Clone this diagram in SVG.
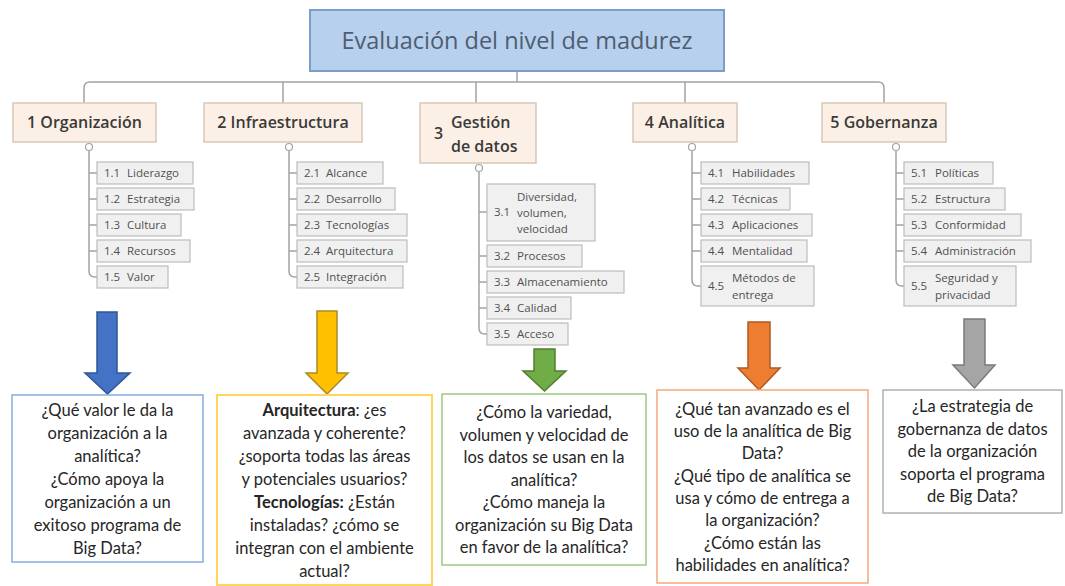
<svg xmlns="http://www.w3.org/2000/svg" width="1065" height="586" viewBox="0 0 1065 586">
<style>
.title{font-family:"Open Sans","DejaVu Sans",sans-serif;font-size:23.5px;fill:#4f5d6e;text-anchor:middle}
.main{fill:#fcf0e6;stroke:#d6c8ba;stroke-width:1.5}
.mt{font-family:"Open Sans","DejaVu Sans",sans-serif;font-size:16px;font-weight:600;fill:#3a3a3a}
.sub{fill:#f0f0f0;stroke:#bcbcbc;stroke-width:1.2}
.st{font-family:"Open Sans","DejaVu Sans",sans-serif;font-size:11.5px;fill:#505050}
.con{fill:none;stroke:#a3a3a3;stroke-width:1.5}
.tog{fill:#fff;stroke:#a3a3a3;stroke-width:1.2}
.q{font-family:Lato,"Liberation Sans",sans-serif;font-size:16.5px;fill:#262626;text-anchor:middle}
.b{font-weight:700}
</style>
<rect width="1065" height="586" fill="#ffffff"/>

<g id="connectors">
<path class="con" d="M517,71 V82"/>
<path class="con" d="M84,103 V88 Q84,82 90,82 H878 Q884,82 884,88 V103"/>
<path class="con" d="M283,82 V103 M476,82 V103 M685,82 V103"/>
<path class="con" d="M89,151 V271 Q89,277 95,277 H97 M89,173 H97 M89,199 H97 M89,225 H97 M89,251 H97"/>
<path class="con" d="M289,151 V271 Q289,277 295,277 H297 M289,173 H297 M289,199 H297 M289,225 H297 M289,251 H297"/>
<path class="con" d="M479,172 V328 Q479,334 485,334 H487 M479,212 H487 M479,256 H487 M479,282 H487 M479,308 H487"/>
<path class="con" d="M692,151 V280 Q692,286 698,286 H701 M692,173 H701 M692,199 H701 M692,225 H701 M692,251 H701"/>
<path class="con" d="M896,151 V280 Q896,286 902,286 H904 M896,173 H904 M896,199 H904 M896,225 H904 M896,251 H904"/>
<circle class="tog" cx="89" cy="147" r="3.5"/>
<circle class="tog" cx="289" cy="147" r="3.5"/>
<circle class="tog" cx="479" cy="168" r="3.5"/>
<circle class="tog" cx="692" cy="147" r="3.5"/>
<circle class="tog" cx="896" cy="147" r="3.5"/>
</g>

<g id="title">
<rect x="310" y="10" width="414" height="61" fill="#b7d0ee" stroke="#7c9dc9" stroke-width="2"/>
<text class="title" x="517" y="49">Evaluación del nivel de madurez</text>
</g>

<g id="n1">
<rect class="main" x="13" y="103" width="143" height="39"/>
<text class="mt" x="84.5" y="128" text-anchor="middle">1 Organización</text>
</g>
<g id="n2">
<rect class="main" x="204" y="103" width="158" height="39"/>
<text class="mt" x="283" y="128" text-anchor="middle">2 Infraestructura</text>
</g>
<g id="n3">
<rect class="main" x="420" y="103" width="116" height="60"/>
<text class="mt" x="434" y="139">3</text>
<text class="mt" x="451" y="128">Gestión</text>
<text class="mt" x="451" y="152">de datos</text>
</g>
<g id="n4">
<rect class="main" x="633" y="103" width="104" height="39"/>
<text class="mt" x="685" y="128" text-anchor="middle">4 Analítica</text>
</g>
<g id="n5">
<rect class="main" x="822" y="103" width="124" height="39"/>
<text class="mt" x="884" y="128" text-anchor="middle">5 Gobernanza</text>
</g>

<g id="s11"><rect class="sub" x="97" y="162" width="96" height="22"/><text class="st" x="104" y="177">1.1</text><text class="st" x="127" y="177">Liderazgo</text></g>
<g id="s12"><rect class="sub" x="97" y="188" width="97" height="22"/><text class="st" x="104" y="203">1.2</text><text class="st" x="127" y="203">Estrategia</text></g>
<g id="s13"><rect class="sub" x="97" y="214" width="84" height="22"/><text class="st" x="104" y="229">1.3</text><text class="st" x="127" y="229">Cultura</text></g>
<g id="s14"><rect class="sub" x="97" y="240" width="93" height="22"/><text class="st" x="104" y="255">1.4</text><text class="st" x="127" y="255">Recursos</text></g>
<g id="s15"><rect class="sub" x="97" y="266" width="71" height="22"/><text class="st" x="104" y="281">1.5</text><text class="st" x="127" y="281">Valor</text></g>

<g id="s21"><rect class="sub" x="297" y="162" width="86" height="22"/><text class="st" x="304" y="177">2.1</text><text class="st" x="326" y="177">Alcance</text></g>
<g id="s22"><rect class="sub" x="297" y="188" width="98" height="22"/><text class="st" x="304" y="203">2.2</text><text class="st" x="326" y="203">Desarrollo</text></g>
<g id="s23"><rect class="sub" x="297" y="214" width="110" height="22"/><text class="st" x="304" y="229">2.3</text><text class="st" x="326" y="229">Tecnologías</text></g>
<g id="s24"><rect class="sub" x="297" y="240" width="110" height="22"/><text class="st" x="304" y="255">2.4</text><text class="st" x="326" y="255">Arquitectura</text></g>
<g id="s25"><rect class="sub" x="297" y="266" width="106" height="22"/><text class="st" x="304" y="281">2.5</text><text class="st" x="326" y="281">Integración</text></g>

<g id="s31"><rect class="sub" x="487" y="184" width="108" height="57"/><text class="st" x="494" y="216">3.1</text><text class="st" x="517" y="201">Diversidad,</text><text class="st" x="517" y="217">volumen,</text><text class="st" x="517" y="233">velocidad</text></g>
<g id="s32"><rect class="sub" x="487" y="245" width="95" height="22"/><text class="st" x="494" y="260">3.2</text><text class="st" x="517" y="260">Procesos</text></g>
<g id="s33"><rect class="sub" x="487" y="271" width="137" height="22"/><text class="st" x="494" y="286">3.3</text><text class="st" x="517" y="286">Almacenamiento</text></g>
<g id="s34"><rect class="sub" x="487" y="297" width="84" height="22"/><text class="st" x="494" y="312">3.4</text><text class="st" x="517" y="312">Calidad</text></g>
<g id="s35"><rect class="sub" x="487" y="323" width="81" height="22"/><text class="st" x="494" y="338">3.5</text><text class="st" x="517" y="338">Acceso</text></g>

<g id="s41"><rect class="sub" x="701" y="162" width="108" height="22"/><text class="st" x="708" y="177">4.1</text><text class="st" x="732" y="177">Habilidades</text></g>
<g id="s42"><rect class="sub" x="701" y="188" width="89" height="22"/><text class="st" x="708" y="203">4.2</text><text class="st" x="732" y="203">Técnicas</text></g>
<g id="s43"><rect class="sub" x="701" y="214" width="111" height="22"/><text class="st" x="708" y="229">4.3</text><text class="st" x="732" y="229">Aplicaciones</text></g>
<g id="s44"><rect class="sub" x="701" y="240" width="106" height="22"/><text class="st" x="708" y="255">4.4</text><text class="st" x="732" y="255">Mentalidad</text></g>
<g id="s45"><rect class="sub" x="701" y="266" width="113" height="40"/><text class="st" x="708" y="290">4.5</text><text class="st" x="732" y="282">Métodos de</text><text class="st" x="732" y="299">entrega</text></g>

<g id="s51"><rect class="sub" x="904" y="162" width="89" height="22"/><text class="st" x="911" y="177">5.1</text><text class="st" x="935" y="177">Políticas</text></g>
<g id="s52"><rect class="sub" x="904" y="188" width="101" height="22"/><text class="st" x="911" y="203">5.2</text><text class="st" x="935" y="203">Estructura</text></g>
<g id="s53"><rect class="sub" x="904" y="214" width="117" height="22"/><text class="st" x="911" y="229">5.3</text><text class="st" x="935" y="229">Conformidad</text></g>
<g id="s54"><rect class="sub" x="904" y="240" width="127" height="22"/><text class="st" x="911" y="255">5.4</text><text class="st" x="935" y="255">Administración</text></g>
<g id="s55"><rect class="sub" x="904" y="266" width="112" height="40"/><text class="st" x="911" y="290">5.5</text><text class="st" x="935" y="282">Seguridad y</text><text class="st" x="935" y="299">privacidad</text></g>

<g id="arrows">
<path d="M97,312 H117 V373 H130 L107.5,394 L85,373 H97 Z" fill="#4472c4" stroke="#2f5597" stroke-width="1.5"/>
<path d="M317,311 H337 V373 H348 L327,394 L306,373 H317 Z" fill="#ffc000" stroke="#a88a2a" stroke-width="1.5"/>
<path d="M534,349 H555 V371 H566 L544.5,391 L523,371 H534 Z" fill="#70ad47" stroke="#507e32" stroke-width="1.5"/>
<path d="M748,322 H770 V368 H780 L759,390 L738,368 H748 Z" fill="#ed7d31" stroke="#ae5a21" stroke-width="1.5"/>
<path d="M964,319 H985 V365 H995 L974.5,388 L953,365 H964 Z" fill="#a5a5a5" stroke="#7a7a7a" stroke-width="1.5"/>
</g>

<g id="q1">
<rect x="12" y="395" width="191" height="167" fill="#fff" stroke="#86ace0" stroke-width="1.5"/>
<text class="q"><tspan x="107.5" y="416">¿Qué valor le da la</tspan><tspan x="107.5" y="439">organización a la</tspan><tspan x="107.5" y="462">analítica?</tspan><tspan x="107.5" y="485">¿Cómo apoya la</tspan><tspan x="107.5" y="508">organización a un</tspan><tspan x="107.5" y="531">exitoso programa de</tspan><tspan x="107.5" y="554">Big Data?</tspan></text>
</g>
<g id="q2">
<rect x="217" y="395" width="215" height="190" fill="#fff" stroke="#ffd65c" stroke-width="2"/>
<text class="q"><tspan x="324.5" y="416"><tspan class="b">Arquitectura</tspan>: ¿es</tspan><tspan x="324.5" y="439">avanzada y coherente?</tspan><tspan x="324.5" y="462">¿soporta todas las áreas</tspan><tspan x="324.5" y="485">y potenciales usuarios?</tspan><tspan x="324.5" y="508"><tspan class="b">Tecnologías:</tspan> ¿Están</tspan><tspan x="324.5" y="531">instaladas? ¿cómo se</tspan><tspan x="324.5" y="554">integran con el ambiente</tspan><tspan x="324.5" y="577">actual?</tspan></text>
</g>
<g id="q3">
<rect x="442" y="394" width="204" height="171" fill="#fff" stroke="#9dc97f" stroke-width="1.5"/>
<text class="q"><tspan x="544" y="418">¿Cómo la variedad,</tspan><tspan x="544" y="441">volumen y velocidad de</tspan><tspan x="544" y="463">los datos se usan en la</tspan><tspan x="544" y="486">analítica?</tspan><tspan x="544" y="508">¿Cómo maneja la</tspan><tspan x="544" y="531">organización su Big Data</tspan><tspan x="544" y="553">en favor de la analítica?</tspan></text>
</g>
<g id="q4">
<rect x="657" y="390" width="211" height="193" fill="#fff" stroke="#f3a97c" stroke-width="1.5"/>
<text class="q"><tspan x="762.5" y="415">¿Qué tan avanzado es el</tspan><tspan x="762.5" y="437">uso de la analítica de Big</tspan><tspan x="762.5" y="459">Data?</tspan><tspan x="762.5" y="482">¿Qué tipo de analítica se</tspan><tspan x="762.5" y="504">usa y cómo de entrega a</tspan><tspan x="762.5" y="526">la organización?</tspan><tspan x="762.5" y="549">¿Cómo están las</tspan><tspan x="762.5" y="571">habilidades en analítica?</tspan></text>
</g>
<g id="q5">
<rect x="883" y="390" width="179" height="123" fill="#fff" stroke="#b0b0b0" stroke-width="1.5"/>
<text class="q"><tspan x="972.5" y="412">¿La estrategia de</tspan><tspan x="972.5" y="435">gobernanza de datos</tspan><tspan x="972.5" y="457">de la organización</tspan><tspan x="972.5" y="480">soporta el programa</tspan><tspan x="972.5" y="502">de Big Data?</tspan></text>
</g>
</svg>
